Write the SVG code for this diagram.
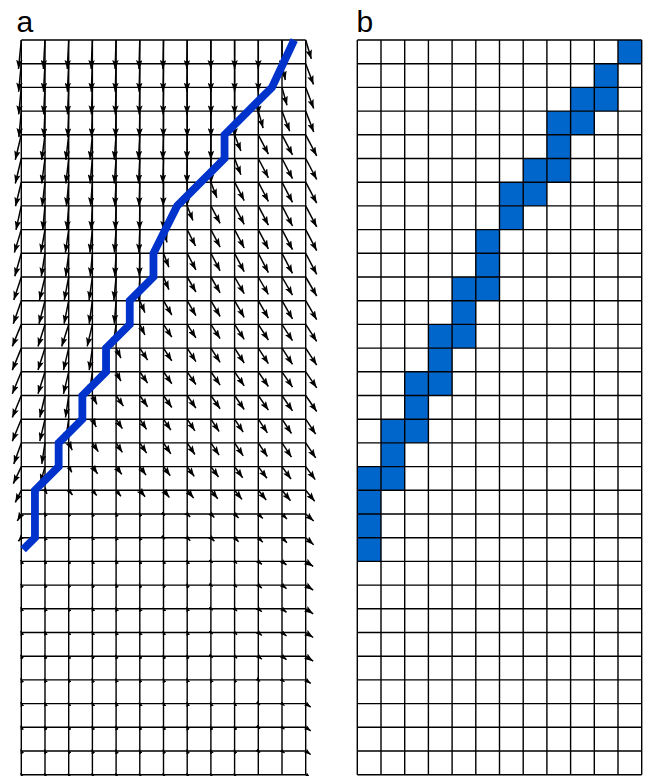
<svg xmlns="http://www.w3.org/2000/svg" width="646" height="776" viewBox="0 0 646 776">
<style>
.g{fill:none;stroke:#000;stroke-width:1.4}
.ar path{fill:none;stroke:#000;stroke-width:1.5}
#an path{marker-end:url(#h)}
#am path{marker-end:url(#hm)}
#at path{marker-end:url(#ht);stroke-width:1.2}
.lbl{font-family:"Liberation Sans",Arial,sans-serif;font-size:30px;fill:#000}
.cell{fill:#0066cc}
</style>
<defs>
<marker id="h" viewBox="0 0 8 6" refX="8" refY="3" markerWidth="9" markerHeight="6.5" markerUnits="userSpaceOnUse" orient="auto" preserveAspectRatio="none"><path d="M0 0L8 3L0 6L1.6 3z"/></marker>
<marker id="hm" viewBox="0 0 8 6" refX="8" refY="3" markerWidth="6.5" markerHeight="5" markerUnits="userSpaceOnUse" orient="auto" preserveAspectRatio="none"><path d="M0 0L8 3L0 6L1.6 3z"/></marker>
<marker id="ht" viewBox="0 0 8 6" refX="8" refY="3" markerWidth="4.5" markerHeight="3.8" markerUnits="userSpaceOnUse" orient="auto" preserveAspectRatio="none"><path d="M0 0L8 3L0 6z"/></marker>
</defs>
<rect width="646" height="776" fill="#fff"/>
<text class="lbl" x="16.5" y="32">a</text>
<text class="lbl" x="356.5" y="32">b</text>
<g id="panel-a">
<path id="grid-a" class="g" d="M21.3 40V774.7M45 40V774.7M68.7 40V774.7M92.4 40V774.7M116.1 40V774.7M139.8 40V774.7M163.5 40V774.7M187.2 40V774.7M210.9 40V774.7M234.6 40V774.7M258.3 40V774.7M282 40V774.7M305.7 40V774.7M21.3 40H305.7M21.3 63.7H305.7M21.3 87.4H305.7M21.3 111.1H305.7M21.3 134.8H305.7M21.3 158.5H305.7M21.3 182.2H305.7M21.3 205.9H305.7M21.3 229.6H305.7M21.3 253.3H305.7M21.3 277H305.7M21.3 300.7H305.7M21.3 324.4H305.7M21.3 348.1H305.7M21.3 371.8H305.7M21.3 395.5H305.7M21.3 419.2H305.7M21.3 442.9H305.7M21.3 466.6H305.7M21.3 490.3H305.7M21.3 514H305.7M21.3 537.7H305.7M21.3 561.4H305.7M21.3 585.1H305.7M21.3 608.8H305.7M21.3 632.5H305.7M21.3 656.2H305.7M21.3 679.9H305.7M21.3 703.6H305.7M21.3 727.3H305.7M21.3 751H305.7M21.3 774.7H305.7"/>
<g class="ar" id="an">
<path d="M21.3 40l-2.8 29"/><path d="M45 40l-1.6 29"/><path d="M68.7 40l-1.4 29"/><path d="M92.4 40l-1.2 29"/><path d="M116.1 40l-1 29"/><path d="M139.8 40l-.8 29"/><path d="M163.5 40l-.6 29"/><path d="M187.2 40l-.4 29"/><path d="M210.9 40l-.2 29"/><path d="M234.6 40l0 29"/><path d="M258.3 40l0 29"/><path d="M282 40l0 29"/><path d="M305.7 40l5.6 18.9"/>
<path d="M21.3 63.7l-2.7 28"/><path d="M45 63.7l-1.5 28"/><path d="M68.7 63.7l-1.3 28"/><path d="M92.4 63.7l-1.1 28"/><path d="M116.1 63.7l-.9 28"/><path d="M139.8 63.7l-.7 28"/><path d="M163.5 63.7l-.5 28"/><path d="M187.2 63.7l-.3 28"/><path d="M210.9 63.7l-.1 28"/><path d="M234.6 63.7l0 28"/><path d="M258.3 63.7l0 28"/><path d="M282 63.7l3.3 16.3"/><path d="M305.7 63.7l7.8 20.8"/>
<path d="M21.3 87.4l-2.6 27"/><path d="M45 87.4l-1.4 27"/><path d="M68.7 87.4l-1.2 27"/><path d="M92.4 87.4l-1 27"/><path d="M116.1 87.4l-.8 27"/><path d="M139.8 87.4l-.6 27"/><path d="M163.5 87.4l-.4 27"/><path d="M187.2 87.4l-.2 27"/><path d="M210.9 87.4l0 27"/><path d="M234.6 87.4l0 27"/><path d="M258.3 87.4l0 27"/><path d="M282 87.4l5 17.8"/><path d="M305.7 87.4l8 21"/>
<path d="M21.3 111.1l-2.4 26"/><path d="M45 111.1l-1.2 26"/><path d="M68.7 111.1l-1 26"/><path d="M92.4 111.1l-.8 26"/><path d="M116.1 111.1l-.6 26"/><path d="M139.8 111.1l-.4 26"/><path d="M163.5 111.1l-.2 26"/><path d="M187.2 111.1l0 26"/><path d="M210.9 111.1l0 26"/><path d="M234.6 111.1l0 26"/><path d="M258.3 111.1l4.8 17"/><path d="M282 111.1l7.7 20.1"/><path d="M305.7 111.1l8 21"/>
<path d="M21.3 134.8l-6 25"/><path d="M45 134.8l-3.3 25"/><path d="M68.7 134.8l-2.8 25"/><path d="M92.4 134.8l-2.3 25"/><path d="M116.1 134.8l-1.8 25"/><path d="M139.8 134.8l-1.3 25"/><path d="M163.5 134.8l-.8 25"/><path d="M187.2 134.8l-.3 25"/><path d="M210.9 134.8l0 25"/><path d="M234.6 134.8l6.3 16.2"/><path d="M258.3 134.8l10.1 19.3"/><path d="M282 134.8l10.5 20.1"/><path d="M305.7 134.8l11 21"/>
<path d="M21.3 158.5l-6 25"/><path d="M45 158.5l-3.3 25"/><path d="M68.7 158.5l-2.8 25"/><path d="M92.4 158.5l-2.3 25"/><path d="M116.1 158.5l-1.8 25"/><path d="M139.8 158.5l-1.3 25"/><path d="M163.5 158.5l-.8 25"/><path d="M187.2 158.5l-.3 25"/><path d="M210.9 158.5l0 25"/><path d="M234.6 158.5l6.3 16.2"/><path d="M258.3 158.5l10.1 19.3"/><path d="M282 158.5l10.5 20.1"/><path d="M305.7 158.5l11 21"/>
<path d="M21.3 182.2l-5.8 24"/><path d="M45 182.2l-2.8 24"/><path d="M68.7 182.2l-2.3 24"/><path d="M92.4 182.2l-1.8 24"/><path d="M116.1 182.2l-1.3 24"/><path d="M139.8 182.2l-.8 24"/><path d="M163.5 182.2l-.3 24"/><path d="M187.2 182.2l0 24"/><path d="M210.9 182.2l6 15.5"/><path d="M234.6 182.2l9.6 18.4"/><path d="M258.3 182.2l10.1 19.3"/><path d="M282 182.2l10.5 20.1"/><path d="M305.7 182.2l11 21"/>
<path d="M21.3 205.9l-5.3 24"/><path d="M45 205.9l-2.3 24"/><path d="M68.7 205.9l-1.8 24"/><path d="M92.4 205.9l-1.3 24"/><path d="M116.1 205.9l-.8 24"/><path d="M139.8 205.9l-.3 24"/><path d="M163.5 205.9l0 24"/><path d="M187.2 205.9l5.7 14.7"/><path d="M210.9 205.9l9.2 17.5"/><path d="M234.6 205.9l9.6 18.4"/><path d="M258.3 205.9l10.1 19.3"/><path d="M282 205.9l10.5 20.1"/><path d="M305.7 205.9l11 21"/>
<path d="M21.3 229.6l-6.9 23"/><path d="M45 229.6l-4.1 23"/><path d="M68.7 229.6l-3.3 23"/><path d="M92.4 229.6l-2.5 23"/><path d="M116.1 229.6l-1.7 23"/><path d="M139.8 229.6l-.9 23"/><path d="M163.5 229.6l3.5 12.8"/><path d="M187.2 229.6l8.3 16.4"/><path d="M210.9 229.6l9.2 17.5"/><path d="M234.6 229.6l9.6 18.4"/><path d="M258.3 229.6l10.1 19.3"/><path d="M282 229.6l10.5 20.1"/><path d="M305.7 229.6l11 21"/>
<path d="M21.3 253.3l-6.5 23"/><path d="M45 253.3l-3.7 23"/><path d="M68.7 253.3l-2.9 23"/><path d="M92.4 253.3l-2.1 23"/><path d="M116.1 253.3l-1.3 23"/><path d="M139.8 253.3l-.5 23"/><path d="M163.5 253.3l5.4 13.9"/><path d="M187.2 253.3l8.7 16.6"/><path d="M210.9 253.3l9.2 17.5"/><path d="M234.6 253.3l9.6 18.4"/><path d="M258.3 253.3l10.1 19.3"/><path d="M282 253.3l10.5 20.1"/><path d="M305.7 253.3l11 21"/>
<path d="M21.3 277l-7.5 23"/><path d="M45 277l-5.5 23"/><path d="M68.7 277l-4.4 23"/><path d="M92.4 277l-3.3 23"/><path d="M116.1 277l-2.2 23"/><path d="M139.8 277l-1.1 23"/><path d="M163.5 277l5.4 12.6"/><path d="M187.2 277l8.7 15"/><path d="M210.9 277l9.2 15.8"/><path d="M234.6 277l9.6 16.7"/><path d="M258.3 277l10.1 17.5"/><path d="M282 277l10.5 18.2"/><path d="M305.7 277l11 19"/>
<path d="M21.3 300.7l-8 23"/><path d="M45 300.7l-6 23"/><path d="M68.7 300.7l-4.6 23"/><path d="M92.4 300.7l-3.2 23"/><path d="M116.1 300.7l-1.8 23"/><path d="M139.8 300.7l5.1 11.9"/><path d="M163.5 300.7l8.3 14.3"/><path d="M187.2 300.7l8.7 15"/><path d="M210.9 300.7l9.2 15.8"/><path d="M234.6 300.7l9.6 16.7"/><path d="M258.3 300.7l10.1 17.5"/><path d="M282 300.7l10.5 18.2"/><path d="M305.7 300.7l11 19"/>
<path d="M21.3 324.4l-9 22"/><path d="M45 324.4l-7 22"/><path d="M68.7 324.4l-7 22"/><path d="M92.4 324.4l-5.2 22"/><path d="M116.1 324.4l-3.2 22"/><path d="M139.8 324.4l5.1 10.6"/><path d="M163.5 324.4l8.3 12.8"/><path d="M187.2 324.4l8.7 13.5"/><path d="M210.9 324.4l9.2 14.2"/><path d="M234.6 324.4l9.6 14.9"/><path d="M258.3 324.4l10.1 15.6"/><path d="M282 324.4l10.5 16.3"/><path d="M305.7 324.4l11 17"/>
<path d="M21.3 348.1l-9 22"/><path d="M45 348.1l-7 22"/><path d="M68.7 348.1l-5.2 22"/><path d="M92.4 348.1l-3.2 22"/><path d="M116.1 348.1l4.8 10"/><path d="M139.8 348.1l7.8 12"/><path d="M163.5 348.1l8.3 12.8"/><path d="M187.2 348.1l8.7 13.5"/><path d="M210.9 348.1l9.2 14.2"/><path d="M234.6 348.1l9.6 14.9"/><path d="M258.3 348.1l10.1 15.6"/><path d="M282 348.1l10.5 16.3"/><path d="M305.7 348.1l11 17"/>
<path d="M21.3 371.8l-9 22"/><path d="M45 371.8l-7 22"/><path d="M68.7 371.8l-5.2 22"/><path d="M92.4 371.8l-3.2 22"/><path d="M116.1 371.8l4.8 9.4"/><path d="M139.8 371.8l7.8 11.3"/><path d="M163.5 371.8l8.3 12"/><path d="M187.2 371.8l8.7 12.7"/><path d="M210.9 371.8l9.2 13.3"/><path d="M234.6 371.8l9.6 14"/><path d="M258.3 371.8l10.1 14.7"/><path d="M282 371.8l10.5 15.3"/><path d="M305.7 371.8l11 16"/>
<path d="M21.3 395.5l-9 22"/><path d="M45 395.5l-5.2 22"/><path d="M68.7 395.5l-3.2 22"/><path d="M92.4 395.5l4.5 8.8"/><path d="M116.1 395.5l7.3 10.7"/><path d="M139.8 395.5l7.8 11.3"/><path d="M163.5 395.5l8.3 12"/><path d="M187.2 395.5l8.7 12.7"/><path d="M210.9 395.5l9.2 13.3"/><path d="M234.6 395.5l9.6 14"/><path d="M258.3 395.5l10.1 14.7"/><path d="M282 395.5l10.5 15.3"/><path d="M305.7 395.5l11 16"/>
<path d="M21.3 419.2l-9 22"/><path d="M45 419.2l-5.2 22"/><path d="M68.7 419.2l-3.2 22"/><path d="M92.4 419.2l3.8 7.8"/><path d="M116.1 419.2l6.3 9.5"/><path d="M139.8 419.2l6.8 10.2"/><path d="M163.5 419.2l7.3 10.9"/><path d="M187.2 419.2l7.7 11.6"/><path d="M210.9 419.2l8.2 12.3"/><path d="M234.6 419.2l8.6 12.9"/><path d="M258.3 419.2l9.1 13.6"/><path d="M282 419.2l9.5 14.3"/><path d="M305.7 419.2l10 15"/>
<path d="M21.3 442.9l-7.5 21"/><path d="M45 442.9l-3.2 21"/><path d="M68.7 442.9l3.5 7.2"/><path d="M92.4 442.9l5.9 8.8"/><path d="M116.1 442.9l6.3 9.5"/><path d="M139.8 442.9l6.8 10.2"/><path d="M163.5 442.9l7.3 10.9"/><path d="M187.2 442.9l7.7 11.6"/><path d="M210.9 442.9l8.2 12.3"/><path d="M234.6 442.9l8.6 12.9"/><path d="M258.3 442.9l9.1 13.6"/><path d="M282 442.9l9.5 14.3"/><path d="M305.7 442.9l10 15"/>
<path d="M21.3 466.6l-8 17"/><path d="M45 466.6l-4.5 16"/><path d="M92.4 466.6l5.2 7.2"/><path d="M116.1 466.6l5.7 7.8"/><path d="M139.8 466.6l6.2 8.5"/><path d="M163.5 466.6l6.7 9.1"/><path d="M187.2 466.6l7.1 9.8"/><path d="M210.9 466.6l7.6 10.4"/><path d="M234.6 466.6l8.1 11.1"/><path d="M258.3 466.6l8.6 11.7"/><path d="M282 466.6l9 12.4"/><path d="M305.7 466.6l9.5 13"/>
<path d="M21.3 490.3l-6 12"/><path d="M139.8 490.3l5.3 6.5"/><path d="M163.5 490.3l5.9 7.2"/><path d="M187.2 490.3l6.4 7.8"/><path d="M210.9 490.3l6.9 8.4"/><path d="M234.6 490.3l7.4 9.1"/><path d="M258.3 490.3l7.9 9.7"/><path d="M282 490.3l8.5 10.4"/><path d="M305.7 490.3l9 11"/>
<path d="M21.3 514l-4 7"/><path d="M305.7 514l8 7"/><path d="M305.7 537.7l8 7"/>
<path d="M305.7 561.4l7.5 5"/><path d="M305.7 585.1l7.5 5"/><path d="M305.7 608.8l7.5 5"/><path d="M305.7 632.5l7.5 5"/><path d="M305.7 656.2l7.5 5"/>
</g>
<g class="ar" id="am">
<path d="M68.7 466.6l3.1 5.7"/>
<path d="M45 490.3l2.1 3.5"/><path d="M68.7 490.3l3.8 4.6"/><path d="M92.4 490.3l4.3 5.2"/><path d="M116.1 490.3l4.8 5.9"/>
<path d="M187.2 514l3 3"/><path d="M210.9 514l3.5 3.5"/><path d="M234.6 514l4 4"/><path d="M258.3 514l4.5 4.5"/><path d="M282 514l5 5"/>
<path d="M21.3 537.7l-3 3.5"/><path d="M187.2 537.7l3 3"/><path d="M210.9 537.7l3.5 3.5"/><path d="M234.6 537.7l4 4"/><path d="M258.3 537.7l4.5 4.5"/><path d="M282 537.7l5 5"/>
<path d="M258.3 561.4l3.5 3"/><path d="M282 561.4l4.5 3.5"/><path d="M258.3 585.1l3.5 3"/><path d="M282 585.1l4.5 3.5"/><path d="M258.3 608.8l3.5 3"/><path d="M282 608.8l4.5 3.5"/><path d="M258.3 632.5l3.5 3"/><path d="M282 632.5l4.5 3.5"/><path d="M258.3 656.2l3.5 3"/><path d="M282 656.2l4.5 3.5"/>
<path d="M305.7 679.9l5 3.5"/><path d="M305.7 703.6l5 3.5"/><path d="M305.7 727.3l5 3.5"/><path d="M305.7 751l5 3.5"/><path d="M305.7 774.7l5 3.5"/>
</g>
<g class="ar" id="at">
<path d="M45 514l-.6-1.5"/><path d="M68.7 514l-.6-1.5"/><path d="M92.4 514l-.6-1.5"/><path d="M116.1 514l-.6-1.5"/><path d="M139.8 514l-.6-1.5"/><path d="M163.5 514l1.5 1.5"/>
<path d="M45 537.7l-.6-1.5"/><path d="M68.7 537.7l-.6-1.5"/><path d="M92.4 537.7l-.6-1.5"/><path d="M116.1 537.7l-.6-1.5"/><path d="M139.8 537.7l-.6-1.5"/><path d="M163.5 537.7l1.5 1.5"/>
<path d="M21.3 561.4l-.6-1.5"/><path d="M45 561.4l-.6-1.5"/><path d="M68.7 561.4l-.6-1.5"/><path d="M92.4 561.4l-.6-1.5"/><path d="M116.1 561.4l-.6-1.5"/><path d="M139.8 561.4l-.6-1.5"/><path d="M163.5 561.4l-.6-1.5"/><path d="M187.2 561.4l-.6-1.5"/><path d="M210.9 561.4l1.8 1.5"/><path d="M234.6 561.4l2.5 2.2"/>
<path d="M21.3 585.1l-.6-1.5"/><path d="M45 585.1l-.6-1.5"/><path d="M68.7 585.1l-.6-1.5"/><path d="M92.4 585.1l-.6-1.5"/><path d="M116.1 585.1l-.6-1.5"/><path d="M139.8 585.1l-.6-1.5"/><path d="M163.5 585.1l-.6-1.5"/><path d="M187.2 585.1l-.6-1.5"/><path d="M210.9 585.1l1.8 1.5"/><path d="M234.6 585.1l2.5 2.2"/>
<path d="M21.3 608.8l-.6-1.5"/><path d="M45 608.8l-.6-1.5"/><path d="M68.7 608.8l-.6-1.5"/><path d="M92.4 608.8l-.6-1.5"/><path d="M116.1 608.8l-.6-1.5"/><path d="M139.8 608.8l-.6-1.5"/><path d="M163.5 608.8l-.6-1.5"/><path d="M187.2 608.8l-.6-1.5"/><path d="M210.9 608.8l1.8 1.5"/><path d="M234.6 608.8l2.5 2.2"/>
<path d="M21.3 632.5l-.6-1.5"/><path d="M45 632.5l-.6-1.5"/><path d="M68.7 632.5l-.6-1.5"/><path d="M92.4 632.5l-.6-1.5"/><path d="M116.1 632.5l-.6-1.5"/><path d="M139.8 632.5l-.6-1.5"/><path d="M163.5 632.5l-.6-1.5"/><path d="M187.2 632.5l-.6-1.5"/><path d="M210.9 632.5l1.8 1.5"/><path d="M234.6 632.5l2.5 2.2"/>
<path d="M21.3 656.2l-.6-1.5"/><path d="M45 656.2l-.6-1.5"/><path d="M68.7 656.2l-.6-1.5"/><path d="M92.4 656.2l-.6-1.5"/><path d="M116.1 656.2l-.6-1.5"/><path d="M139.8 656.2l-.6-1.5"/><path d="M163.5 656.2l-.6-1.5"/><path d="M187.2 656.2l-.6-1.5"/><path d="M210.9 656.2l1.8 1.5"/><path d="M234.6 656.2l2.5 2.2"/>
<path d="M21.3 679.9l-.6-1.5"/><path d="M45 679.9l-.6-1.5"/><path d="M68.7 679.9l-.6-1.5"/><path d="M92.4 679.9l-.6-1.5"/><path d="M116.1 679.9l-.6-1.5"/><path d="M139.8 679.9l-.6-1.5"/><path d="M163.5 679.9l-.6-1.5"/><path d="M187.2 679.9l-.6-1.5"/><path d="M210.9 679.9l-.6-1.5"/><path d="M234.6 679.9l-.6-1.5"/><path d="M258.3 679.9l1.8 1.5"/><path d="M282 679.9l2.5 2"/>
<path d="M21.3 703.6l-.6-1.5"/><path d="M45 703.6l-.6-1.5"/><path d="M68.7 703.6l-.6-1.5"/><path d="M92.4 703.6l-.6-1.5"/><path d="M116.1 703.6l-.6-1.5"/><path d="M139.8 703.6l-.6-1.5"/><path d="M163.5 703.6l-.6-1.5"/><path d="M187.2 703.6l-.6-1.5"/><path d="M210.9 703.6l-.6-1.5"/><path d="M234.6 703.6l-.6-1.5"/><path d="M258.3 703.6l1.8 1.5"/><path d="M282 703.6l2.5 2"/>
<path d="M21.3 727.3l-.6-1.5"/><path d="M45 727.3l-.6-1.5"/><path d="M68.7 727.3l-.6-1.5"/><path d="M92.4 727.3l-.6-1.5"/><path d="M116.1 727.3l-.6-1.5"/><path d="M139.8 727.3l-.6-1.5"/><path d="M163.5 727.3l-.6-1.5"/><path d="M187.2 727.3l-.6-1.5"/><path d="M210.9 727.3l-.6-1.5"/><path d="M234.6 727.3l-.6-1.5"/><path d="M258.3 727.3l1.8 1.5"/><path d="M282 727.3l2.5 2"/>
<path d="M21.3 751l-.6-1.5"/><path d="M45 751l-.6-1.5"/><path d="M68.7 751l-.6-1.5"/><path d="M92.4 751l-.6-1.5"/><path d="M116.1 751l-.6-1.5"/><path d="M139.8 751l-.6-1.5"/><path d="M163.5 751l-.6-1.5"/><path d="M187.2 751l-.6-1.5"/><path d="M210.9 751l-.6-1.5"/><path d="M234.6 751l-.6-1.5"/><path d="M258.3 751l1.8 1.5"/><path d="M282 751l2.5 2"/>
<path d="M21.3 774.7l-.6-1.5"/><path d="M45 774.7l-.6-1.5"/><path d="M68.7 774.7l-.6-1.5"/><path d="M92.4 774.7l-.6-1.5"/><path d="M116.1 774.7l-.6-1.5"/><path d="M139.8 774.7l-.6-1.5"/><path d="M163.5 774.7l-.6-1.5"/><path d="M187.2 774.7l-.6-1.5"/><path d="M210.9 774.7l-.6-1.5"/><path d="M234.6 774.7l-.6-1.5"/>
</g>
<path id="path-a" d="M294.2 40L271.95 87.4L224.55 134.8L224.55 158.5L177.15 205.9L153.45 253.3L153.45 277L129.75 300.7L129.75 324.4L106.05 348.1L106.05 371.8L82.35 395.5L82.35 419.2L58.65 442.9L58.65 466.6L34.95 490.3L34.95 537.7L23.1 549.55" fill="none" stroke="#0033cc" stroke-width="7.8" stroke-linejoin="miter" stroke-miterlimit="10"/>
</g>
<g id="panel-b">
<g id="cells-b">
<rect class="cell" x="618" y="40" width="23.7" height="23.7"/>
<rect class="cell" x="594.3" y="63.7" width="23.7" height="23.7"/>
<rect class="cell" x="570.6" y="87.4" width="47.4" height="23.7"/>
<rect class="cell" x="546.9" y="111.1" width="47.4" height="23.7"/>
<rect class="cell" x="546.9" y="134.8" width="23.7" height="23.7"/>
<rect class="cell" x="523.2" y="158.5" width="47.4" height="23.7"/>
<rect class="cell" x="499.5" y="182.2" width="47.4" height="23.7"/>
<rect class="cell" x="499.5" y="205.9" width="23.7" height="23.7"/>
<rect class="cell" x="475.8" y="229.6" width="23.7" height="47.4"/>
<rect class="cell" x="452.1" y="277" width="47.4" height="23.7"/>
<rect class="cell" x="452.1" y="300.7" width="23.7" height="23.7"/>
<rect class="cell" x="428.4" y="324.4" width="47.4" height="23.7"/>
<rect class="cell" x="428.4" y="348.1" width="23.7" height="23.7"/>
<rect class="cell" x="404.7" y="371.8" width="47.4" height="23.7"/>
<rect class="cell" x="404.7" y="395.5" width="23.7" height="23.7"/>
<rect class="cell" x="381" y="419.2" width="47.4" height="23.7"/>
<rect class="cell" x="381" y="442.9" width="23.7" height="23.7"/>
<rect class="cell" x="357.3" y="466.6" width="47.4" height="23.7"/>
<rect class="cell" x="357.3" y="490.3" width="23.7" height="71.1"/>
</g>
<path id="grid-b" class="g" d="M357.3 40V774.7M381 40V774.7M404.7 40V774.7M428.4 40V774.7M452.1 40V774.7M475.8 40V774.7M499.5 40V774.7M523.2 40V774.7M546.9 40V774.7M570.6 40V774.7M594.3 40V774.7M618 40V774.7M641.7 40V774.7M357.3 40H641.7M357.3 63.7H641.7M357.3 87.4H641.7M357.3 111.1H641.7M357.3 134.8H641.7M357.3 158.5H641.7M357.3 182.2H641.7M357.3 205.9H641.7M357.3 229.6H641.7M357.3 253.3H641.7M357.3 277H641.7M357.3 300.7H641.7M357.3 324.4H641.7M357.3 348.1H641.7M357.3 371.8H641.7M357.3 395.5H641.7M357.3 419.2H641.7M357.3 442.9H641.7M357.3 466.6H641.7M357.3 490.3H641.7M357.3 514H641.7M357.3 537.7H641.7M357.3 561.4H641.7M357.3 585.1H641.7M357.3 608.8H641.7M357.3 632.5H641.7M357.3 656.2H641.7M357.3 679.9H641.7M357.3 703.6H641.7M357.3 727.3H641.7M357.3 751H641.7M357.3 774.7H641.7"/>
</g>
</svg>
